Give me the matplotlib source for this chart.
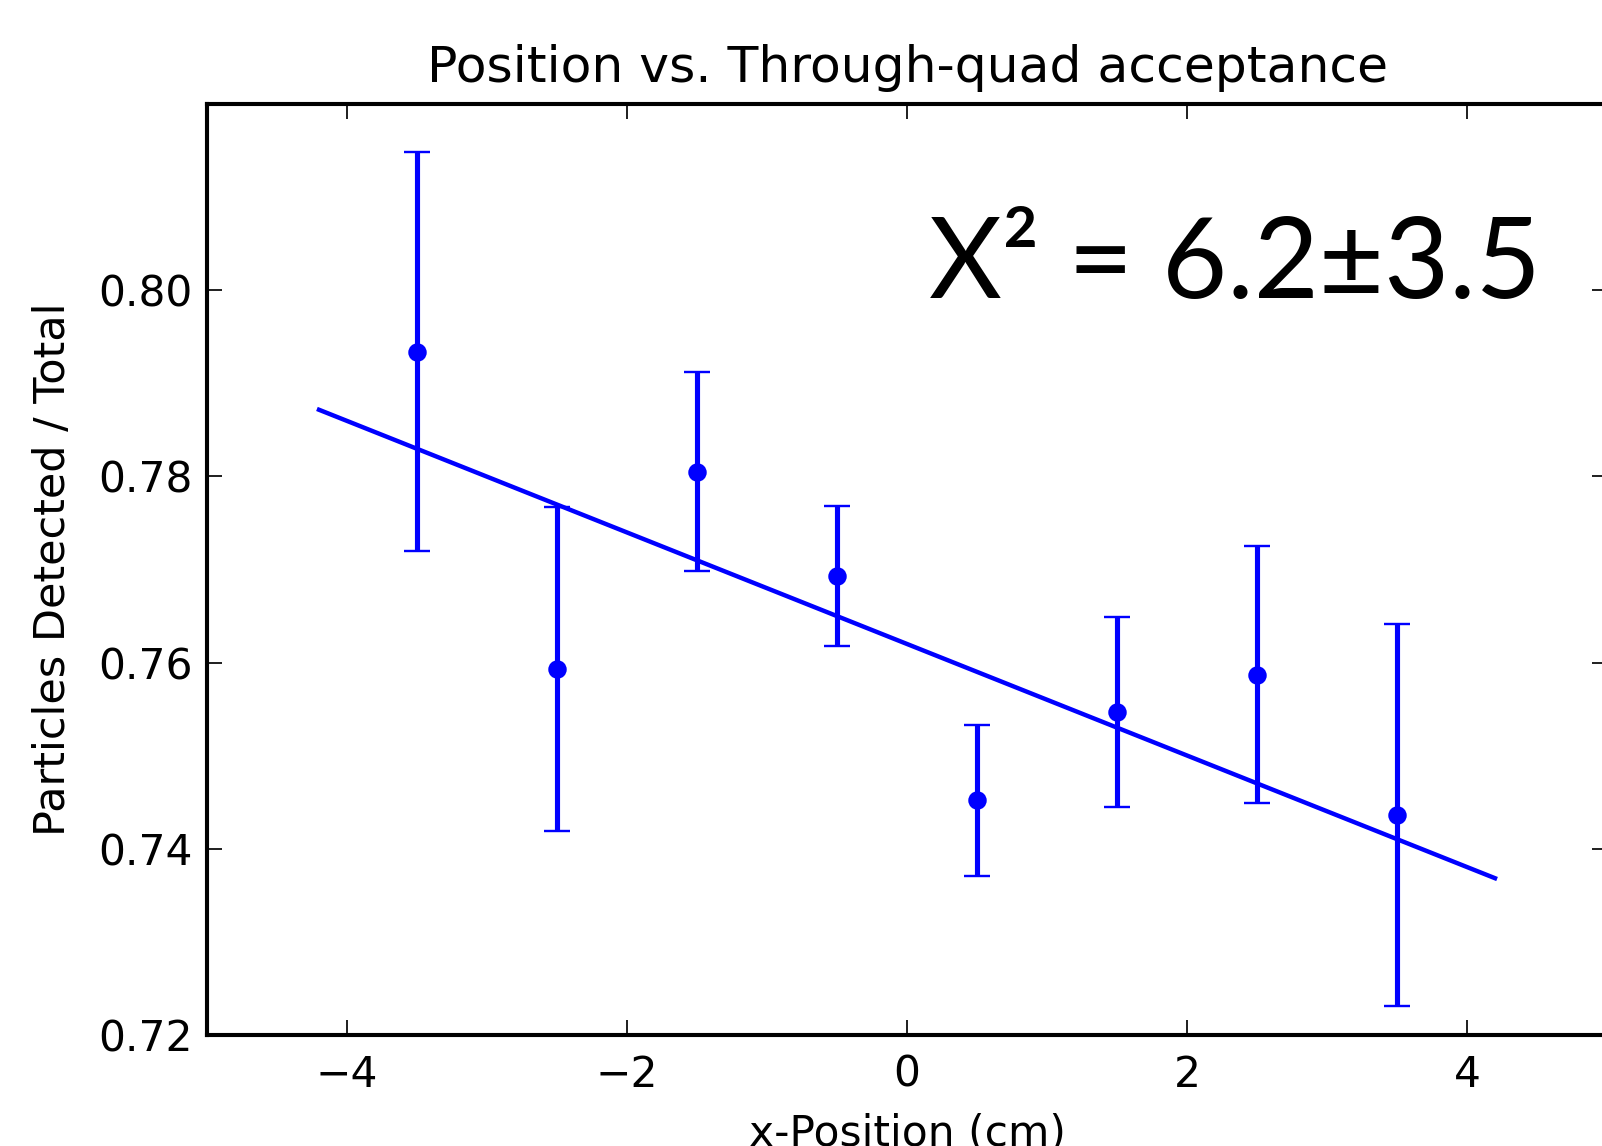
import matplotlib
matplotlib.use('Agg')
import matplotlib.pyplot as plt
import numpy as np

# measured data
x_pos = [-3.5, -2.5, -1.5, -0.5, 0.5, 1.5, 2.5, 3.5]
ratio = [0.7934, 0.7593, 0.7805, 0.7693, 0.7452, 0.7547, 0.7587, 0.7436]
ratio_err = [0.0214, 0.0174, 0.0107, 0.0075, 0.0081, 0.0102, 0.0138, 0.0205]

# linear fit
fit_slope = -0.00599
fit_intercept = 0.7620
fit_range = [-4.2, 4.2]

DPI = 246
fig = plt.figure(figsize=(1602 / DPI, 1146 / DPI), dpi=DPI, facecolor='white')
ax = fig.add_axes([207 / 1602, (1146 - 1035) / 1146, 1400 / 1602, 931 / 1146])

ax.errorbar(x_pos, ratio, yerr=ratio_err, fmt='o', color='b', ms=4.4,
            elinewidth=1.5, capsize=3.7, capthick=0.7, mec='b')

fx = np.array(fit_range)
ax.plot(fx, fit_slope * fx + fit_intercept, color='b', lw=1.3)

ax.set_xlim(-5, 5)
ax.set_ylim(0.72, 0.82)
ax.set_xticks([-4, -2, 0, 2, 4])
ax.set_yticks([0.72, 0.74, 0.76, 0.78, 0.80])
ax.set_yticklabels(['0.72', '0.74', '0.76', '0.78', '0.80'])

ax.tick_params(direction='in', top=True, right=True, length=4.4, width=0.5,
               labelsize=12.4)
ax.xaxis.set_tick_params(pad=5.5)
ax.yaxis.set_tick_params(pad=4.3)
for s in ax.spines.values():
    s.set_linewidth(1.2)

ax.set_title('Position vs. Through-quad acceptance', fontsize=14.75, pad=6.5)
ax.set_xlabel('x-Position (cm)', fontsize=12.4, labelpad=5)
ax.set_ylabel('Particles Detected / Total', fontsize=12.6, labelpad=7)

ax.text(0.516, 0.792, 'X² = 6.2±3.5', transform=ax.transAxes,
        family='Lato', fontsize=32.9, va='baseline', ha='left')

fig.savefig('out.png', dpi=DPI, facecolor='white')
